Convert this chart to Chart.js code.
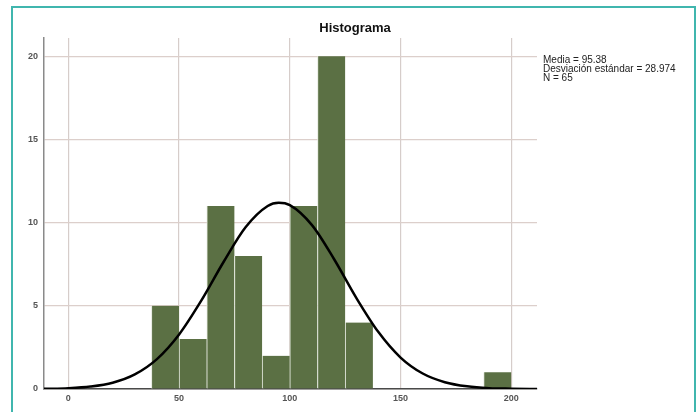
<!DOCTYPE html>
<html>
<head>
<meta charset="utf-8">
<script src="https://cdn.jsdelivr.net/npm/chart.js@4"></script>
<style>
  body { margin: 0; background: #fff; }
  #wrap { position: relative; width: 700px; height: 412px; overflow: hidden; }
  #frame { position: absolute; left: 11px; top: 6px; width: 681px; height: 420px; border: 2px solid #40b6ae; }
  canvas { position: absolute; left: 0; top: 0; }
</style>
</head>
<body>
<div id="wrap">
  <div id="frame"></div>
  <canvas id="myChart" width="700" height="412"></canvas>
</div>
<script>
// histogram bins (width 12.5) and counts
var binCenters = [43.75, 56.25, 68.75, 81.25, 93.75, 106.25, 118.75, 131.25, 143.75, 156.25, 168.75, 181.25, 193.75];
var binCounts  = [5, 3, 11, 8, 2, 11, 20, 4, 0, 0, 0, 0, 1];

// normal curve
var curveX = [-11, 0, 10, 20, 30, 40, 50, 60, 70, 80, 90, 95, 100, 110, 120, 130, 140, 150, 160, 170, 180, 190, 200, 212];
var curveY = [0.01, 0.05, 0.15, 0.38, 0.88, 1.8, 3.28, 5.31, 7.62, 9.72, 11.0, 11.19, 11.05, 9.85, 7.8, 5.48, 3.42, 1.89, 0.93, 0.41, 0.16, 0.05, 0.02, 0.0];

var xTicks = [0, 50, 100, 150, 200];
var yTicks = [0, 5, 10, 15, 20];

var statsLines = ['Media = 95.38', 'Desviación estándar = 28.974', 'N = 65'];
var titleText = 'Histograma';

var barData = binCenters.map(function (c, i) { return {x: c, y: binCounts[i]}; });
var lineData = curveX.map(function (c, i) { return {x: c, y: curveY[i]}; });

var textPlugin = {
  id: 'texts',
  afterDraw: function (chart) {
    var c = chart.ctx;
    c.save();
    c.fillStyle = '#111';
    c.font = 'bold 13px "Liberation Sans", Arial, sans-serif';
    c.textAlign = 'center';
    c.textBaseline = 'middle';
    c.fillText(titleText, 355, 28);
    c.fillStyle = '#222';
    c.font = '10px "Liberation Sans", Arial, sans-serif';
    c.textAlign = 'left';
    statsLines.forEach(function (s, i) {
      c.fillText(s, 543, 60 + i * 9);
    });
    c.restore();
  }
};

var ctx = document.getElementById('myChart').getContext('2d');
var myChart = new Chart(ctx, {
  type: 'bar',
  data: {
    datasets: [{
      type: 'line',
      data: lineData,
      borderColor: '#000',
      borderWidth: 2.5,
      pointRadius: 0,
      cubicInterpolationMode: 'monotone',
      fill: false,
      order: 0
    }, {
      type: 'bar',
      data: barData,
      backgroundColor: '#5b7044',
      borderColor: '#e4e9de',
      borderWidth: {left: 1, right: 0, top: 0, bottom: 0},
      borderSkipped: false,
      barPercentage: 1,
      categoryPercentage: 1,
      grouped: false,
      order: 1
    }]
  },
  plugins: [textPlugin],
  options: {
    responsive: false,
    animation: false,
    layout: { padding: {left: 14, top: 38, right: 163, bottom: 0} },
    plugins: {
      legend: { display: false },
      tooltip: { enabled: false },
      title: { display: false }
    },
    scales: {
      x: {
        type: 'linear',
        min: -11,
        max: 211.6,
        offset: false,
        afterFit: function (s) { s.height = 23; },
        afterBuildTicks: function (s) { s.ticks = xTicks.map(function (v) { return {value: v}; }); },
        ticks: {
          padding: 4,
          color: '#555',
          font: { size: 9, weight: 'bold', family: '"Liberation Sans", Arial, sans-serif' }
        },
        grid: { offset: false, color: '#d6cdca', lineWidth: 1.2, drawTicks: false },
        border: { display: true, color: '#4a4a4a', width: 1.5 }
      },
      y: {
        min: 0,
        max: 21.1,
        afterFit: function (s) { s.width = 30; },
        afterBuildTicks: function (s) { s.ticks = yTicks.map(function (v) { return {value: v}; }); },
        ticks: {
          padding: 6,
          color: '#555',
          font: { size: 9, weight: 'bold', family: '"Liberation Sans", Arial, sans-serif' }
        },
        grid: { color: '#dccfcb', lineWidth: 1.2, drawTicks: false },
        border: { display: true, color: '#8a8a8a', width: 1.5 }
      }
    }
  }
});
</script>
</body>
</html>
